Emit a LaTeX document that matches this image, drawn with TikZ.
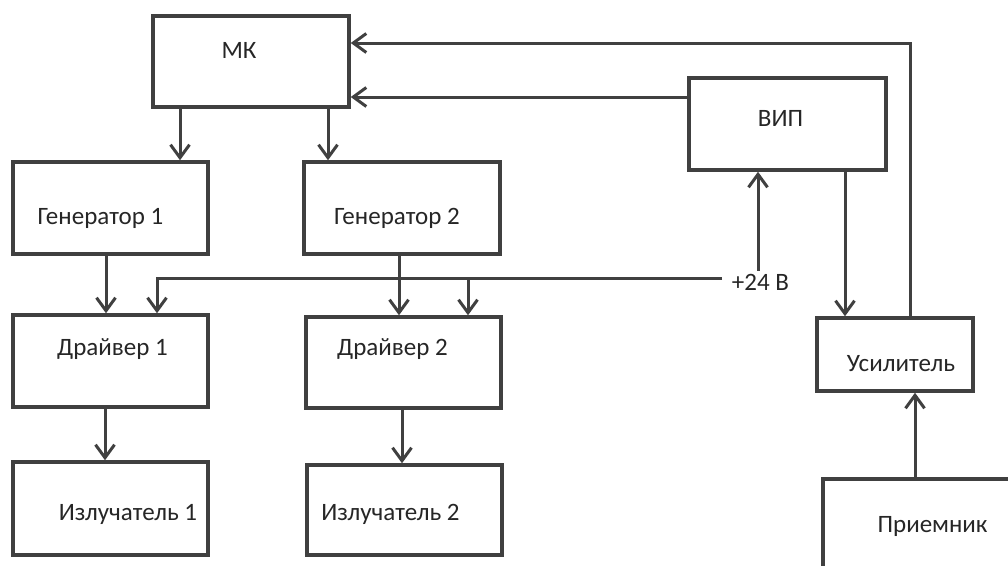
\documentclass[tikz,border=0pt]{standalone}
\usepackage{fontspec}
\setmainfont{Carlito}
\usetikzlibrary{arrows.meta}
\definecolor{ink}{HTML}{404040}
\begin{document}
\begin{tikzpicture}[x=1pt,y=-1pt,
  blk/.style={draw=ink,line width=3.5pt,rectangle,inner sep=0pt},
  txt/.style={anchor=base,inner sep=0pt,text=black!85,font=\fontsize{25}{30}\selectfont},
  arr/.style={draw=ink,line width=3pt,-{Straight Barb[length=13pt,width=19pt]}},
  ln/.style={draw=ink,line width=3pt}]
\useasboundingbox (0,0) rectangle (1008,565);
\clip (0,0) rectangle (1008,565);
\fill[white] (0,0) rectangle (1008,565);
% blocks
\node[blk,minimum width=196pt,minimum height=91pt] (MK) at (251,61.5) {};
\node[blk,minimum width=195pt,minimum height=92pt] (G1) at (110.5,208) {};
\node[blk,minimum width=196pt,minimum height=92pt] (G2) at (402,208) {};
\node[blk,minimum width=195pt,minimum height=92pt] (D1) at (110.5,361) {};
\node[blk,minimum width=195pt,minimum height=91pt] (D2) at (403.5,362.5) {};
\node[blk,minimum width=195pt,minimum height=93pt] (I1) at (110.5,508.5) {};
\node[blk,minimum width=195pt,minimum height=90pt] (I2) at (404.5,510) {};
\node[blk,minimum width=197pt,minimum height=92pt] (VIP) at (787.5,124) {};
\node[blk,minimum width=156pt,minimum height=73pt] (US) at (895,354.5) {};
\node[blk,minimum width=200pt,minimum height=110pt] (PR) at (923,534) {};
% texts
\node[txt] (tMK) at (239,58) {МК};
\node[txt] (tG1) at (100.5,224) {Генератор 1};
\node[txt] (tG2) at (397,224) {Генератор 2};
\node[txt] (tD1) at (112.5,355) {Драйвер 1};
\node[txt] (tD2) at (392.5,355) {Драйвер 2};
\node[txt] (tI1) at (128,520) {Излучатель 1};
\node[txt] (tI2) at (390.5,520) {Излучатель 2};
\node[txt] (tVIP) at (780.5,126) {ВИП};
\node[txt] (tUS) at (901,371) {Усилитель};
\node[txt] (tPR) at (932.5,532) {Приемник};
\node[txt,inner sep=3pt] (p24) at (760.5,290) {+24 В};
\coordinate (bus) at (722,278);
% connectors
\draw[arr] ([xshift=-71pt]MK.south) -- ([xshift=-71pt]MK.south |- G1.north);
\draw[arr] ([xshift=77pt]MK.south) -- ([xshift=77pt]MK.south |- G2.north);
\draw[arr] ([xshift=-4.5pt]G1.south) -- ([xshift=-4.5pt]G1.south |- D1.north);
\draw[arr] ([xshift=-3pt]G2.south) -- ([xshift=-3pt]G2.south |- D2.north);
\draw[arr] (bus) -| ([xshift=46.5pt]D1.north);
\draw[arr] ([xshift=64.5pt]D2.north |- bus) -- ([xshift=64.5pt]D2.north);
\draw[arr] ([xshift=-5.5pt]D1.south) -- ([xshift=-5.5pt]D1.south |- I1.north);
\draw[arr] ([xshift=-1.5pt]D2.south) -- ([xshift=-1.5pt]D2.south |- I2.north);
\draw[arr] ([xshift=-29.5pt]VIP.south |- p24.north) -- ([xshift=-29.5pt]VIP.south);
\draw[arr] ([xshift=57.5pt]VIP.south) -- ([xshift=57.5pt]VIP.south |- US.north);
\draw[arr] ([yshift=27pt]VIP.west) -- ([yshift=27pt]VIP.west -| MK.east);
\draw[arr] ([xshift=15pt]US.north) |- ([yshift=18.5pt]MK.east);
\draw[arr] ([xshift=-8pt]PR.north) -- ([xshift=-8pt]PR.north |- US.south);
\end{tikzpicture}
\end{document}
